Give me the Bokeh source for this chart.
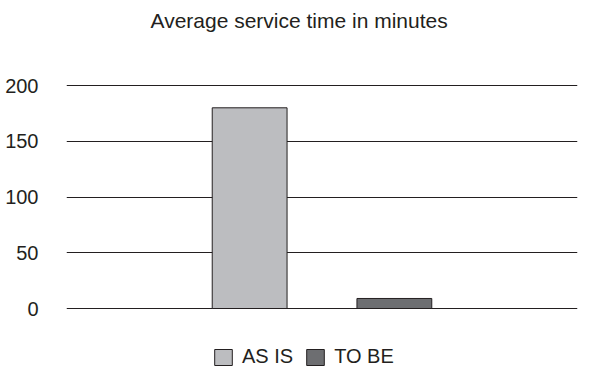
from bokeh.plotting import figure
from bokeh.models import Range1d, FactorRange, Legend, LegendItem, Title
from bokeh.embed import file_html
from bokeh.resources import INLINE

series = ["AS IS", "TO BE"]
values = [180, 9]
colors = ["#bcbdc0", "#6d6e71"]
yticks = [0, 50, 100, 150, 200]
title_text = "Average service time in minutes"

# frame reaches the bottom edge so the legend can sit inside it, below the zero line
p = figure(frame_width=511, frame_height=284, output_backend="svg", toolbar_location=None,
           x_range=FactorRange(factors=series, range_padding=0.7655, range_padding_units="absolute"),
           y_range=Range1d(-53.8, 200.9),
           min_border_left=66, min_border_right=15, min_border_top=84, min_border_bottom=0)
p.title = None
# spacer panel between the frame and the title
p.add_layout(Title(text=" ", text_font_size="1px", standoff=48), "above")
p.add_layout(Title(text=title_text, align="left", vertical_align="top", text_font="Liberation Sans",
                   text_font_size="21px", text_font_style="normal", text_color="#231f20",
                   offset=84, standoff=0), "above")

rs = []
for s, v, c in zip(series, values, colors):
    r = p.vbar(x=[s], top=[v], bottom=0, width=0.517, fill_color=c, line_color="#231f20", line_width=1)
    rs.append(r)

p.outline_line_color = None
p.xgrid.grid_line_color = None
p.ygrid.grid_line_color = "#231f20"
p.ygrid.grid_line_width = 1
p.ygrid.ticker = yticks
p.yaxis.ticker = yticks
p.yaxis.axis_line_color = None
p.yaxis.major_tick_line_color = None
p.yaxis.minor_tick_line_color = None
p.yaxis.major_label_text_font = "Liberation Sans"
p.yaxis.major_label_text_font_size = "20px"
p.yaxis.major_label_text_color = "#231f20"
p.yaxis.major_label_standoff = 22
p.xaxis.visible = False

legend = Legend(items=[LegendItem(label=s, renderers=[r]) for s, r in zip(series, rs)],
                orientation="horizontal", location=(146, 0),
                label_text_font="Liberation Sans", label_text_font_size="20px",
                label_text_color="#231f20", glyph_width=22, glyph_height=20,
                spacing=11, label_standoff=8, border_line_color=None,
                background_fill_alpha=0, padding=0, margin=0)
p.add_layout(legend, "center")

open("out.html", "w").write(file_html(p, INLINE))
